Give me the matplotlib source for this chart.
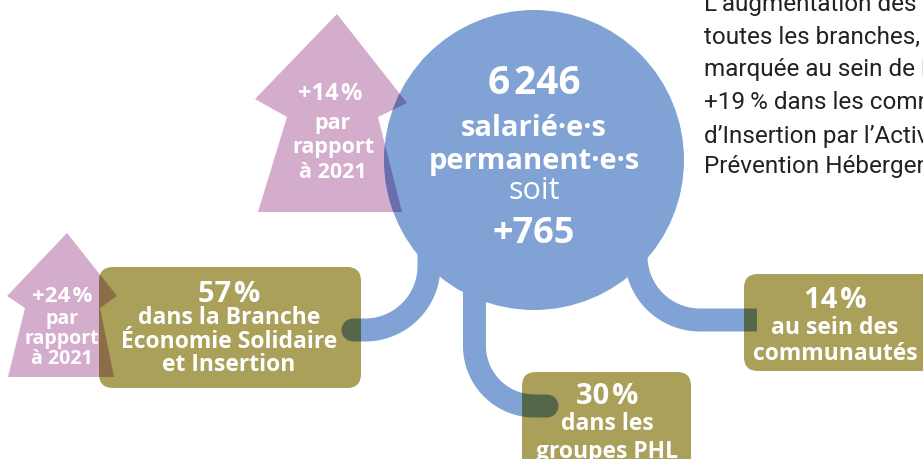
import numpy as np
import matplotlib
matplotlib.use("Agg")
import matplotlib.pyplot as plt
from matplotlib.patches import Circle, Polygon, FancyBboxPatch
from matplotlib.colors import to_rgb

# ---- data ----
total_staff = "6\u200a246"
increase = "+765"
total_growth = "+14\u200a%"
branch_pct = ["57\u200a%", "30\u200a%", "14\u200a%"]
branch_labels = [["dans la Branche", "Économie Solidaire", "et Insertion"],
                 ["dans les", "groupes PHL"],
                 ["au sein des", "communautés"]]
branch_growth = "+24\u200a%"
growth_caption = ["par", "rapport", "à 2021"]
paragraph = ["L\u2019augmentation des salarié·e·s concerne",
             "toutes les branches, elle est",
             "marquée au sein de la Branche",
             "+19\u2009% dans les communautés",
             "d\u2019Insertion par l\u2019Activité Économique",
             "Prévention Hébergement Logement"]

BLUE = "#80A2D4"
OLIVE = "#AAA05A"
PINK = "#D4ADCD"
def mult(a, b):
    a, b = np.array(to_rgb(a)), np.array(to_rgb(b))
    return tuple(a * b)

FAM = ["Open Sans", "DejaVu Sans"]
BOLD = dict(family=FAM, fontweight="bold", color="white",
            ha="center", va="center")

fig = plt.figure(figsize=(9.23, 4.59), dpi=100)
ax = fig.add_axes([0, 0, 1, 1])
ax.set_xlim(0, 923)
ax.set_ylim(459, 0)
ax.axis("off")

# ---- tubes ----
def arc(cx, cy, r, a0, a1, n=40):
    t = np.radians(np.linspace(a0, a1, n))
    return cx + r * np.cos(t), cy + r * np.sin(t)

lw = 23 * 0.72
ax_, ay_ = arc(365, 266, 64, 0, 90)
lx = np.concatenate([[429], ax_, [353]])
ly = np.concatenate([[230], ay_, [330]])
mx_, my_ = arc(534.5, 346, 60, 180, 90)
mx = np.concatenate([[474.5], mx_, [547]])
my = np.concatenate([[270], my_, [406]])
rx_, ry_ = arc(700, 256, 64, 180, 90)
rx = np.concatenate([[636], rx_, [757]])
ry = np.concatenate([[240], ry_, [320]])

tubes = [(lx, ly, "round"), (mx, my, "round"), (rx, ry, "butt")]
for x, y, cap in tubes:
    ax.plot(x, y, color=BLUE, lw=lw, solid_capstyle=cap, solid_joinstyle="round", zorder=2)

# ---- circle ----
circ = Circle((534, 160), 150, facecolor=BLUE, edgecolor="none", zorder=2)
ax.add_patch(circ)

# ---- arrows ----
arrow1 = [(337, 14), (407, 103), (378, 117), (402, 212), (258, 212), (287, 117), (255, 99)]
arrow2 = [(67, 233), (117, 296), (100, 308), (114, 377), (8, 377), (25, 308), (7, 296)]
p1 = Polygon(arrow1, closed=True, facecolor=PINK, edgecolor="none", zorder=1)
ax.add_patch(p1)
p1o = Polygon(arrow1, closed=True, facecolor=mult(PINK, BLUE), edgecolor="none", zorder=3)
ax.add_patch(p1o)
p1o.set_clip_path(circ)

# ---- boxes ----
boxes = [(99, 267, 262, 121), (522, 372, 169, 100), (744, 274, 200, 97)]
box_patches = []
for (x0, y0, w, h) in boxes:
    b = FancyBboxPatch((x0, y0), w, h, boxstyle="round,pad=0,rounding_size=14",
                       facecolor=OLIVE, edgecolor="none", zorder=4)
    ax.add_patch(b)
    box_patches.append(b)

for (x, y, cap), b in zip(tubes, box_patches):
    ln, = ax.plot(x, y, color=mult(BLUE, OLIVE), lw=lw, solid_capstyle=cap,
                  solid_joinstyle="round", zorder=5)
    ln.set_clip_path(b)

p2 = Polygon(arrow2, closed=True, facecolor=PINK, edgecolor="none", zorder=3)
ax.add_patch(p2)
p2o = Polygon(arrow2, closed=True, facecolor=mult(PINK, OLIVE), edgecolor="none", zorder=5)
ax.add_patch(p2o)
p2o.set_clip_path(box_patches[0])

# ---- texts ----
ax.text(534, 84, total_staff, fontsize=28, zorder=6, **BOLD)
ax.text(534, 128, "salarié·e·s", fontsize=21, zorder=6, **BOLD)
ax.text(534, 162, "permanent·e·s", fontsize=21, zorder=6, **BOLD)
ax.text(534, 191, "soit", fontsize=22, zorder=6, family=FAM,
        color="white", ha="center", va="center")
ax.text(534, 234, increase, fontsize=26, zorder=6, **BOLD)

ax.text(330, 94, total_growth, fontsize=17, zorder=6, **BOLD)
for i, s in enumerate(growth_caption):
    ax.text(333, 123 + 24.5 * i, s, fontsize=15.5, zorder=6, **BOLD)
ax.text(62, 296, branch_growth, fontsize=16, zorder=6, **BOLD)
for i, s in enumerate(growth_caption):
    ax.text(62, 319 + 20 * i, s, fontsize=14, zorder=6, **BOLD)

centers = [(229, 294, 23.5), (607, 397, 27), (835, 300, 27)]
for (cx, cy, sp), pct, lab in zip(centers, branch_pct, branch_labels):
    ax.text(cx, cy, pct, fontsize=21, zorder=6, **BOLD)
    for i, s in enumerate(lab):
        ax.text(cx, cy + sp + 0.5 + sp * i, s, fontsize=16.5, zorder=6, **BOLD)

for i, s in enumerate(paragraph):
    ax.text(704, 5 + 32.4 * i, s, fontsize=17.5, color="#222222",
            family=["Liberation Sans Narrow", "Roboto", "DejaVu Sans"],
            ha="left", va="center", zorder=6)

fig.savefig("out.png", dpi=100)
